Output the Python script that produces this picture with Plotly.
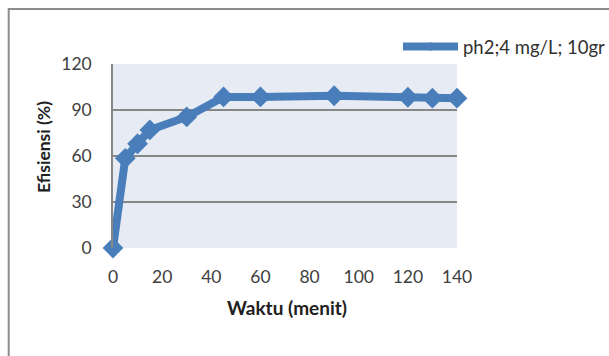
import plotly.graph_objects as go

waktu = [0, 5, 10, 15, 30, 45, 60, 90, 120, 130, 140]
efisiensi = [0, 58.5, 68, 77, 85.5, 98.5, 98.5, 99.3, 98.3, 97.7, 97.7]
series_name = "ph2;4 mg/L; 10gr"
x_ticks = [0, 20, 40, 60, 80, 100, 120, 140]
y_ticks = [0, 30, 60, 90, 120]
x_title = "Waktu (menit)"
y_title = "Efisiensi (%)"

BLUE = "#4A7EBB"
GRID = "#878787"
FONT = "Lato"

fig = go.Figure()
fig.add_trace(go.Scatter(
    x=waktu, y=efisiensi, name=series_name, mode="lines+markers",
    line=dict(color=BLUE, width=8),
    marker=dict(symbol="diamond", size=16, color=BLUE),
    cliponaxis=False, showlegend=False,
))
# legend entry (smaller marker as in the reference legend)
fig.add_trace(go.Scatter(
    x=[None], y=[None], name=series_name, mode="lines+markers",
    line=dict(color=BLUE, width=8),
    marker=dict(symbol="diamond", size=7, color=BLUE),
    showlegend=True,
))

L, R, T, B = 113, 152, 64, 108
W, H = 609, 356
pw = W - L - R
ph = H - T - B

def px_x(p):
    return (p - L) / pw

def px_y(p):
    return (H - B - p) / ph

fig.update_layout(
    width=W, height=H,
    margin=dict(l=L, r=R, t=T, b=B, pad=0, autoexpand=False),
    paper_bgcolor="white",
    plot_bgcolor="#E7ECF4",
    font=dict(family=FONT, color="#404040", size=17.5),
    showlegend=True,
    legend=dict(
        x=px_x(398), y=px_y(47), xanchor="left", yanchor="middle",
        bgcolor="rgba(0,0,0,0)", itemwidth=55,
        font=dict(family=FONT, size=18.5, color="#303030"),
    ),
    xaxis=dict(
        range=[0, 140], tickvals=x_ticks, showgrid=False, zeroline=False,
        showline=False, ticks="", ticklabelstandoff=16, automargin=False,
    ),
    yaxis=dict(
        range=[0, 120], tickvals=y_ticks, showgrid=True, gridcolor=GRID, gridwidth=1.6,
        zeroline=False, showline=True, linecolor=GRID, linewidth=1.6, ticks="",
        ticklabelstandoff=16, automargin=False,
    ),
    annotations=[
        dict(text="<b>" + x_title + "</b>", xref="paper", yref="paper",
             x=px_x(287), y=px_y(307), xanchor="center", yanchor="middle",
             showarrow=False, font=dict(family=FONT, size=19, color="#202020")),
        dict(text="<b>" + y_title + "</b>", xref="paper", yref="paper",
             x=px_x(43), y=px_y(147), xanchor="center", yanchor="middle",
             textangle=-90, showarrow=False,
             font=dict(family=FONT, size=17.5, color="#202020")),
    ],
    shapes=[dict(
        type="rect", xref="paper", yref="paper",
        x0=px_x(8.7), x1=px_x(700), y0=px_y(450), y1=px_y(9),
        line=dict(color="#8C8C8C", width=2), fillcolor="rgba(0,0,0,0)", layer="below",
    )],
)

fig.write_html("out.html")
